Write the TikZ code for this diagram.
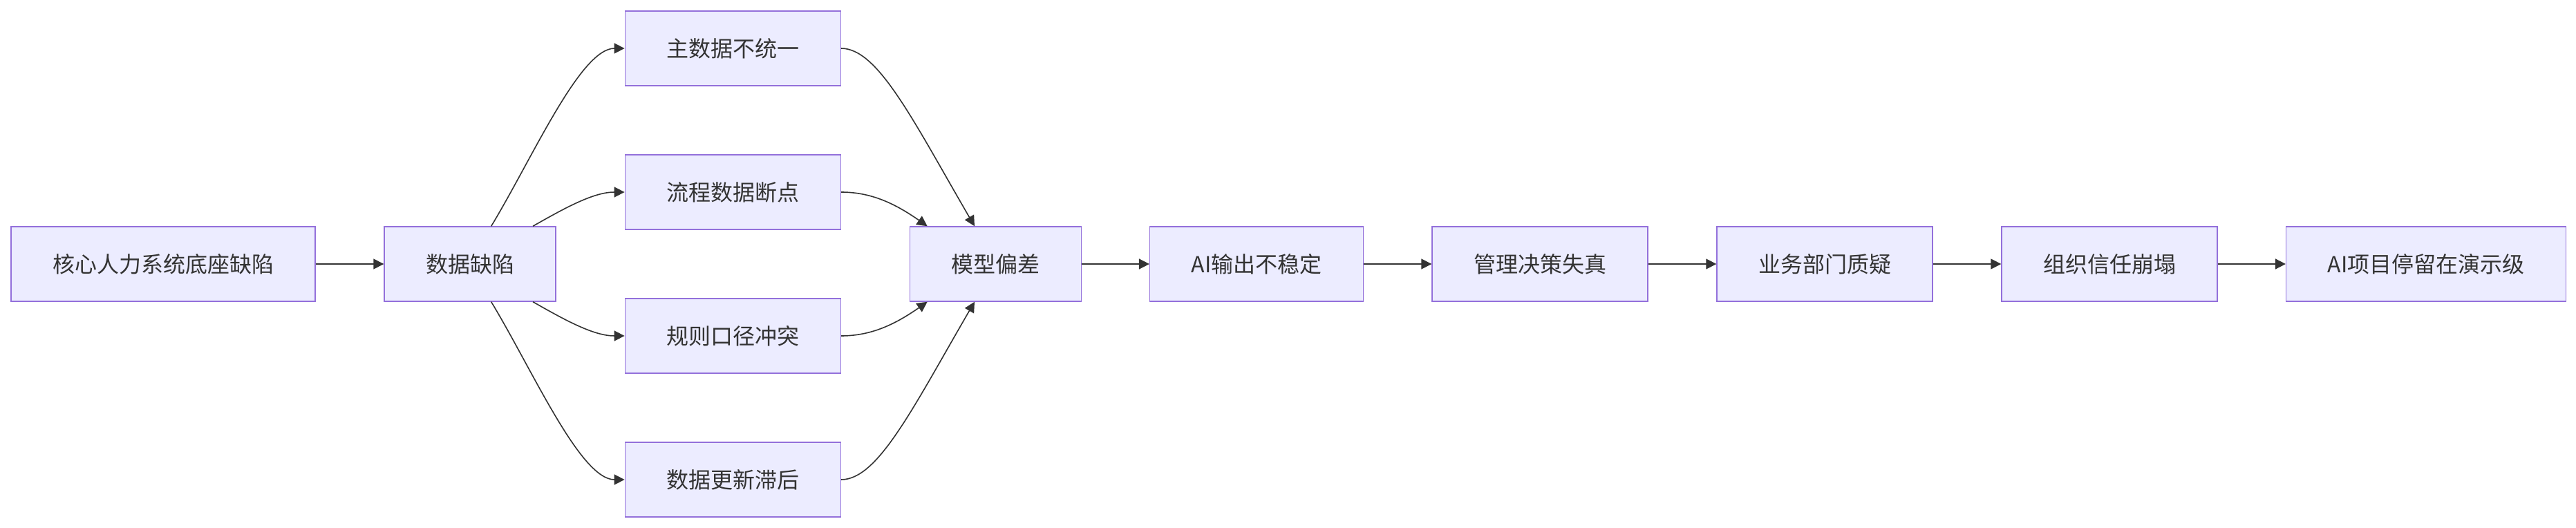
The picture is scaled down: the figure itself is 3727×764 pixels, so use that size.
\documentclass[tikz,border=0pt]{standalone}
\usepackage{fontspec}
\setmainfont{Noto Sans CJK SC}
\usetikzlibrary{arrows.meta}
\definecolor{boxfill}{RGB}{236,236,255}
\definecolor{boxline}{RGB}{147,112,219}
\definecolor{inkgrey}{RGB}{51,51,51}

\begin{document}
\begin{tikzpicture}[x=0.5pt,y=0.5pt,yscale=-1,xscale=1,
    box/.style={draw=boxline,fill=boxfill,line width=0.7pt,minimum height=54pt,inner xsep=30pt,inner ysep=0pt,text=inkgrey,font=\fontsize{16pt}{19pt}\selectfont},
    edge/.style={draw=inkgrey,line width=0.8pt,-{Triangle[length=7.5pt,width=7.5pt]}}]
\useasboundingbox (0,0) rectangle (3727,764);

%Shape: Rectangle [main row]
\node [box] (core) at (236,382) {核心人力系统底座缺陷};
\node [box] (datadef) at (680,382) {数据缺陷};
%Shape: Rectangle [causes]
\node [box] (master) at (1060.3,70) {主数据不统一};
\node [box] (flow) at (1060.3,278) {流程数据断点};
\node [box] (rule) at (1060.3,486) {规则口径冲突};
\node [box] (lag) at (1060.3,694) {数据更新滞后};
%Shape: Rectangle [consequences]
\node [box] (model) at (1440.2,382) {模型偏差};
\node [box] (aiout) at (1818,382) {AI输出不稳定};
\node [box] (mgmt) at (2228,382) {管理决策失真};
\node [box] (biz) at (2640,382) {业务部门质疑};
\node [box] (org) at (3052,382) {组织信任崩塌};
\node [box] (demo) at (3510,382) {AI项目停留在演示级};

%Straight Lines
\draw [edge] (core) -- (datadef);
\draw [edge] (model) -- (aiout);
\draw [edge] (aiout) -- (mgmt);
\draw [edge] (mgmt) -- (biz);
\draw [edge] (biz) -- (org);
\draw [edge] (org) -- (demo);

%Curve Lines [fan out]
\draw [edge] ([xshift=15.35pt]datadef.north) .. controls +(59.3,-97.7) and +(-64,0) .. (master.west);
\draw [edge] ([xshift=45.5pt]datadef.north) .. controls +(49,-28) and +(-44,0) .. (flow.west);
\draw [edge] ([xshift=45.5pt]datadef.south) .. controls +(49,28) and +(-44,0) .. (rule.west);
\draw [edge] ([xshift=15.35pt]datadef.south) .. controls +(59.3,97.7) and +(-64,0) .. (lag.west);

%Curve Lines [fan in]
\draw [edge] (master.east) .. controls +(53,0) and +(-90,-155) .. ([xshift=-15.1pt]model.north);
\draw [edge] (flow.east) .. controls +(43,0) and +(-47,-33) .. ([xshift=-49.25pt]model.north);
\draw [edge] (rule.east) .. controls +(43,0) and +(-47,33) .. ([xshift=-49.25pt]model.south);
\draw [edge] (lag.east) .. controls +(53,0) and +(-90,155) .. ([xshift=-15.1pt]model.south);

\end{tikzpicture}
\end{document}
